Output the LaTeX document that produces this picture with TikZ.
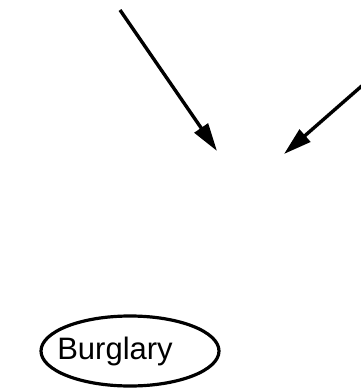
\documentclass[tikz,border=0pt]{standalone}
\usepackage{fontspec}
\setmainfont{Liberation Sans}
\usetikzlibrary{arrows.meta,shapes.geometric}
\begin{document}
\begin{tikzpicture}[x=1pt,y=-1pt,
  conn/.style={line width=3.4pt,-{Triangle[length=28pt,width=16pt]}},
  var/.style={ellipse,draw,line width=3.2pt,minimum width=178pt,minimum height=70pt,inner sep=0pt,font=\fontsize{31}{36}\selectfont}]
\useasboundingbox (0,0) rectangle (360,390);
\coordinate (s1) at (120,10);
\coordinate (t1) at (217,151);
\coordinate (s2) at (364,84);
\coordinate (t2) at (284,154);
\draw[conn] (s1) -- (t1);
\draw[conn] (s2) -- (t2);
\node[var] (burglary) at (130,351) {\makebox[0pt]{\hspace*{-30pt}Burglary}};
\end{tikzpicture}
\end{document}
